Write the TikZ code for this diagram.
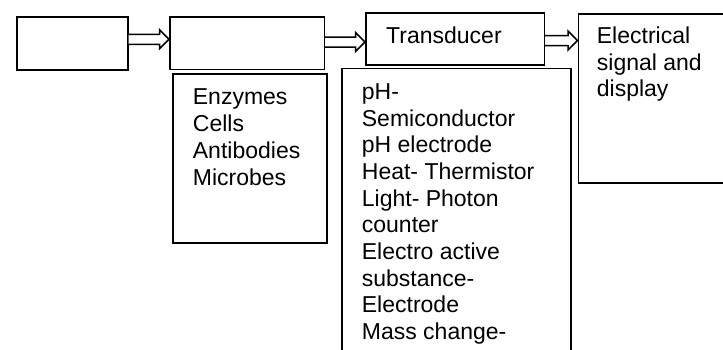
\documentclass[tikz,border=0pt]{standalone}
\usepackage{fontspec}
\setmainfont{Liberation Sans}
\usetikzlibrary{calc}
\tikzset{
  box/.style={draw=black, line width=1.7pt, rectangle, inner sep=0pt, anchor=north west},
  txt/.style={inner sep=0pt, anchor=base west, align=left, font=\fontsize{23}{26.7}\selectfont},
  barrow/.style={draw=black, line width=1.5pt, fill=white, line join=miter}
}
\newcommand\blockarr[3]{%
  \draw[barrow] let \p1=(#1.east), \p2=(#2.west) in
    (\x1,#3+5pt) -- (\x2-9.5pt,#3+5pt) -- (\x2-9.5pt,#3+9.5pt) -- (\x2,#3)
    -- (\x2-9.5pt,#3-9.5pt) -- (\x2-9.5pt,#3-5pt) -- (\x1,#3-5pt);}
\begin{document}
\begin{tikzpicture}[x=1pt,y=1pt]
\useasboundingbox (0,0) rectangle (723,-349);
\begin{scope}
\clip (0,0) rectangle (723,-349);
\node[box, minimum width=111pt, minimum height=53pt] (b1) at (16,-16) {};
\node[box, minimum width=154.5pt, minimum height=52.5pt] (b2) at (169,-16) {};
\node[box, minimum width=178.5pt, minimum height=52pt] (b3) at (365,-12) {};
\node[box, minimum width=160pt, minimum height=169pt] (b4) at (577.5,-13) {};
\node[box, minimum width=154pt, minimum height=169pt] (b5) at (172,-73) {};
\node[box, minimum width=229pt, minimum height=300pt] (b6) at (341,-67.5) {};
\end{scope}
\blockarr{b1}{b2}{-39.3pt}
\blockarr{b2}{b3}{-42pt}
\blockarr{b3}{b4}{-40.5pt}
\node[txt] (t3) at (386,-43.7) {Transducer};
\node[txt] (t4) at (596.7,-96.7) {Electrical\\signal and\\display};
\node[txt] (t5) at (192.7,-185) {Enzymes\\Cells\\Antibodies\\Microbes};
\node[txt] (t6) at (361.7,-339.6) {pH-\\Semiconductor\\pH electrode\\Heat- Thermistor\\Light- Photon\\counter\\Electro active\\substance-\\Electrode\\Mass change-};
\end{tikzpicture}
\end{document}
